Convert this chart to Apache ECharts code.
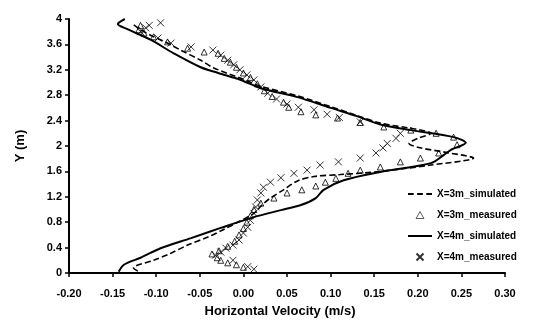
<!DOCTYPE html>
<html>
<head>
<meta charset="utf-8">
<script src="https://cdn.jsdelivr.net/npm/echarts@6/dist/echarts.min.js"></script>
<style>html,body{margin:0;padding:0;background:#fff}#c{width:547px;height:329px}</style>
</head>
<body>
<div id="c"></div>
<script>
// X=3m simulated (dashed)
var sim3V = [-0.121,-0.126,-0.103,-0.085,-0.064,-0.040,-0.022,-0.005,0.012,0.022,0.030,0.046,0.062,0.081,0.111,0.150,0.215,0.264,0.232,0.200,0.190,0.200,0.215,0.200,0.157,0.130,0.100,0.062,0.020,0.000,-0.034,-0.049,-0.072,-0.090,-0.106,-0.121,-0.128];
var sim3Y = [0.03,0.08,0.20,0.30,0.44,0.57,0.69,0.81,0.94,1.08,1.17,1.31,1.45,1.52,1.55,1.59,1.70,1.81,1.90,1.98,2.04,2.12,2.20,2.26,2.36,2.48,2.62,2.79,2.94,3.05,3.23,3.35,3.51,3.64,3.74,3.86,3.93];
// X=4m simulated (solid)
var sim4V = [-0.143,-0.137,-0.118,-0.095,-0.060,-0.026,0.012,0.043,0.066,0.083,0.092,0.115,0.157,0.215,0.230,0.238,0.255,0.241,0.192,0.157,0.130,0.100,0.062,0.020,-0.003,-0.029,-0.049,-0.080,-0.106,-0.133,-0.144,-0.136];
var sim4Y = [0.02,0.13,0.24,0.39,0.55,0.71,0.88,0.99,1.07,1.18,1.31,1.46,1.59,1.73,1.86,1.94,2.05,2.14,2.25,2.34,2.47,2.60,2.77,2.91,3.04,3.15,3.24,3.46,3.67,3.84,3.92,4.00];
// X=3m measured (triangles)
var meas3V = [-0.118,-0.120,-0.114,-0.103,-0.087,-0.064,-0.045,-0.029,-0.022,-0.015,-0.008,0.000,0.008,0.016,0.024,0.033,0.046,0.052,0.066,0.083,0.108,0.134,0.161,0.192,0.221,0.241,0.245,0.224,0.203,0.180,0.157,0.134,0.120,0.106,0.094,0.083,0.067,0.050,0.035,0.020,0.012,0.008,0.004,0.000,-0.005,-0.010,-0.018,-0.028,-0.036,-0.030,-0.026,-0.018,-0.008,0.000];
var meas3Y = [3.90,3.83,3.78,3.72,3.64,3.54,3.48,3.46,3.38,3.32,3.24,3.15,3.08,2.98,2.87,2.78,2.69,2.61,2.54,2.49,2.44,2.37,2.30,2.25,2.20,2.14,2.02,1.89,1.81,1.75,1.67,1.62,1.57,1.49,1.43,1.37,1.31,1.26,1.18,1.10,1.00,0.90,0.80,0.70,0.60,0.50,0.42,0.35,0.30,0.24,0.20,0.16,0.13,0.09];
// X=4m measured (crosses)
var meas4V = [-0.095,-0.108,-0.112,-0.118,-0.098,-0.083,-0.060,-0.035,-0.026,-0.018,-0.011,-0.004,0.004,0.012,0.020,0.028,0.038,0.050,0.063,0.081,0.096,0.110,0.134,0.180,0.175,0.165,0.160,0.152,0.134,0.109,0.088,0.073,0.058,0.043,0.031,0.023,0.020,0.016,0.014,0.012,0.008,0.005,0.000,-0.005,-0.012,-0.020,-0.026,-0.032,-0.012,0.005,0.012];
var meas4Y = [3.94,3.90,3.86,3.80,3.70,3.62,3.56,3.51,3.43,3.35,3.28,3.20,3.12,3.04,2.93,2.83,2.74,2.66,2.61,2.57,2.50,2.45,2.38,2.20,2.12,2.04,1.97,1.89,1.81,1.75,1.70,1.62,1.57,1.50,1.43,1.35,1.26,1.15,1.04,0.94,0.83,0.72,0.63,0.52,0.44,0.39,0.33,0.28,0.20,0.10,0.06];
var seriesNames = ['X=3m_simulated','X=3m_measured','X=4m_simulated','X=4m_measured'];

function zip(a,b){var r=[];for(var i=0;i<a.length;i++)r.push([a[i],b[i]]);return r;}
var FONT = 'Arial, "Liberation Sans", sans-serif';
var CROSS = 'path://M0,0L10,10M0,10L10,0';
var TRI = 'path://M5,0L10,9L0,9Z';
var chart = echarts.init(document.getElementById('c'));
chart.setOption({
  animation:false,
  backgroundColor:'#fff',
  grid:{left:69,right:42,top:19,bottom:56,containLabel:false,outerBoundsMode:'none'},
  xAxis:{type:'value',position:'bottom',min:-0.2,max:0.3,interval:0.05,
    name:'Horizontal Velocity (m/s)',nameLocation:'middle',nameGap:32,nameMoveOverlap:false,
    nameTextStyle:{fontFamily:FONT,fontWeight:'bold',fontSize:13,color:'#000',padding:[0,14,0,0]},
    axisLine:{show:true,onZero:false,lineStyle:{color:'#000',width:2}},
    axisTick:{show:true,inside:false,length:4,lineStyle:{color:'#000',width:1.5}},
    splitLine:{show:false},
    axisLabel:{fontFamily:FONT,fontWeight:'bold',fontSize:11,color:'#000',margin:15,
      formatter:function(v){return v.toFixed(2);}}},
  yAxis:{type:'value',position:'left',min:0,max:4,interval:0.4,
    name:'Y (m)',nameLocation:'middle',nameGap:42,nameRotate:90,nameMoveOverlap:false,
    nameTextStyle:{fontFamily:FONT,fontWeight:'bold',fontSize:13,color:'#000'},
    axisLine:{show:true,onZero:false,lineStyle:{color:'#000',width:2}},
    axisTick:{show:true,inside:false,length:4,lineStyle:{color:'#000',width:1.5}},
    splitLine:{show:false},
    axisLabel:{fontFamily:FONT,fontWeight:'bold',fontSize:11,color:'#000',margin:7,
      formatter:function(v){return String(Math.round(v*10)/10);}}},
  legend:{orient:'vertical',left:403,top:184,itemWidth:24,itemHeight:7,itemGap:11,
    symbolKeepAspect:true,
    data:[
      {name:seriesNames[0],icon:'path://M0,0h5v1.6h-5zM8,0h5v1.6h-5zM16,0h5v1.6h-5z'},
      {name:seriesNames[1],icon:TRI,itemStyle:{borderWidth:0.8}},
      {name:seriesNames[2],icon:'path://M0,0h24v2h-24z'},
      {name:seriesNames[3],icon:CROSS}
    ],
    textStyle:{fontFamily:FONT,fontWeight:'bold',fontSize:10,color:'#000'}},
  series:[
    {name:seriesNames[0],type:'line',data:zip(sim3V,sim3Y),symbol:'none',smooth:0.3,
     lineStyle:{color:'#000',width:1.6,type:[6,3]},itemStyle:{color:'#000'},z:3},
    {name:seriesNames[1],type:'scatter',data:zip(meas3V,meas3Y),symbol:'triangle',symbolSize:6,
     itemStyle:{color:'transparent',borderColor:'#000',borderWidth:1},z:4},
    {name:seriesNames[2],type:'line',data:zip(sim4V,sim4Y),symbol:'none',smooth:0.3,
     lineStyle:{color:'#000',width:2},itemStyle:{color:'#000'},z:3},
    {name:seriesNames[3],type:'scatter',data:zip(meas4V,meas4Y),symbol:CROSS,symbolSize:7,
     itemStyle:{color:'transparent',borderColor:'#000',borderWidth:1},z:4}
  ]
});
</script>
</body>
</html>
